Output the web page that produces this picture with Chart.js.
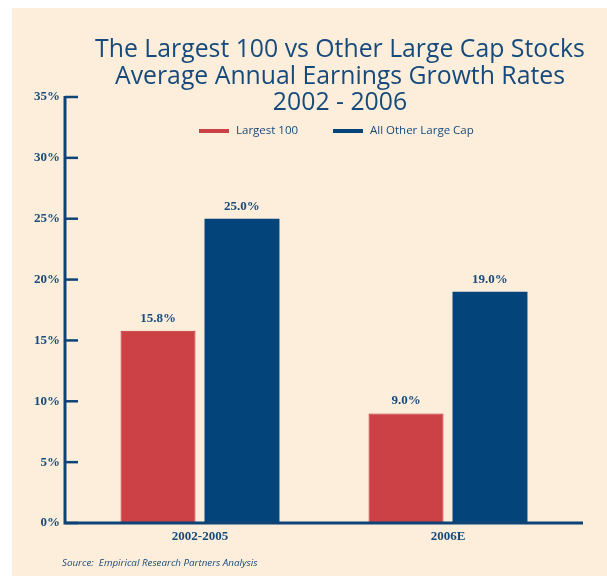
<!DOCTYPE html>
<html>
<head>
<meta charset="utf-8">
<script src="https://cdn.jsdelivr.net/npm/chart.js@4/dist/chart.umd.min.js"></script>
<style>
  html, body { margin: 0; padding: 0; background: #ffffff; }
  #wrap { width: 607px; height: 576px; }
</style>
</head>
<body>
<div id="wrap"><canvas id="chart" width="607" height="576"></canvas></div>
<script>
// data
var categories = ['2002-2005', '2006E'];
var seriesNames = ['Largest 100', 'All Other Large Cap'];
var largest100 = [15.8, 9.0];
var otherLargeCap = [25.0, 19.0];
var titleLines = ['The Largest 100 vs Other Large Cap Stocks', 'Average Annual Earnings Growth Rates', '2002 - 2006'];
var sourceNote = 'Source:  Empirical Research Partners Analysis';

var navy = '#174a7c';
var cream = '#fdeedb';

// panel background, title, legend, source
var decorPlugin = {
    id: 'decor',
    beforeDraw: function (chart) {
        var ctx = chart.ctx;
        ctx.save();
        ctx.fillStyle = cream;
        ctx.fillRect(12, 8, chart.width - 12, chart.height - 8);
        ctx.restore();
    },
    afterDraw: function (chart) {
        var ctx = chart.ctx;
        ctx.save();
        ctx.fillStyle = navy;
        ctx.textAlign = 'center';
        ctx.textBaseline = 'middle';
        ctx.font = '24.8px "Open Sans"';
        titleLines.forEach(function (t, i) {
            ctx.fillText(t, 340, 50 + i * 26.5);
        });

        // legend
        ctx.textAlign = 'left';
        ctx.font = '11.5px "Open Sans"';
        var legendX = [199, 333];
        chart.data.datasets.forEach(function (ds, i) {
            ctx.fillStyle = ds.backgroundColor;
            ctx.fillRect(legendX[i], 129, 30, 4);
            ctx.fillStyle = navy;
            ctx.fillText(ds.label, legendX[i] + 37, 131);
        });

        // source
        ctx.font = 'italic 9.8px "Open Sans"';
        ctx.fillText(sourceNote, 62, 563);

        // axes lines with inward ticks
        var y = chart.scales.y;
        var area = chart.chartArea;
        ctx.strokeStyle = '#0d4377';
        ctx.lineWidth = 3;
        ctx.beginPath();
        ctx.moveTo(65, y.getPixelForValue(35) - 1);
        ctx.lineTo(65, area.bottom);
        ctx.lineTo(583, area.bottom);
        ctx.stroke();
        ctx.lineWidth = 2.5;
        y.ticks.forEach(function (tk) {
            var py = y.getPixelForValue(tk.value);
            ctx.beginPath();
            ctx.moveTo(65, py);
            ctx.lineTo(78, py);
            ctx.stroke();
        });

        // value labels
        ctx.fillStyle = navy;
        ctx.textAlign = 'center';
        ctx.textBaseline = 'bottom';
        ctx.font = 'bold 13px "Liberation Serif"';
        chart.data.datasets.forEach(function (ds, i) {
            chart.getDatasetMeta(i).data.forEach(function (bar, j) {
                ctx.fillText(ds.data[j].toFixed(1) + '%', bar.x, bar.y - 6);
            });
        });
        ctx.restore();
    }
};

new Chart(document.getElementById('chart').getContext('2d'), {
    type: 'bar',
    data: {
        labels: categories,
        datasets: [{
            label: seriesNames[0],
            data: largest100,
            backgroundColor: '#cb4146',
            borderColor: '#c22a35',
            borderWidth: 1,
            categoryPercentage: 0.677,
            barPercentage: 0.893
        }, {
            label: seriesNames[1],
            data: otherLargeCap,
            backgroundColor: '#03457b',
            borderWidth: 0,
            categoryPercentage: 0.677,
            barPercentage: 0.893
        }]
    },
    options: {
        responsive: false,
        animation: false,
        layout: {
            padding: { left: 0, right: 35, top: 97, bottom: 0 }
        },
        plugins: {
            legend: { display: false },
            title: { display: false },
            tooltip: { enabled: false }
        },
        scales: {
            x: {
                grid: { display: false, drawTicks: false },
                border: { display: false },
                ticks: {
                    color: navy,
                    padding: 6,
                    font: { family: 'Liberation Serif', size: 13, weight: 'bold' }
                },
                afterFit: function (scale) { scale.height = 53; }
            },
            y: {
                min: 0,
                max: 35,
                grid: { display: false, drawTicks: false },
                border: { display: false },
                ticks: {
                    stepSize: 5,
                    color: navy,
                    padding: 16,
                    font: { family: 'Liberation Serif', size: 13, weight: 'bold' },
                    callback: function (v) { return v + '%'; }
                },
                afterFit: function (scale) { scale.width = 76; }
            }
        }
    },
    plugins: [decorPlugin]
});
</script>
</body>
</html>
